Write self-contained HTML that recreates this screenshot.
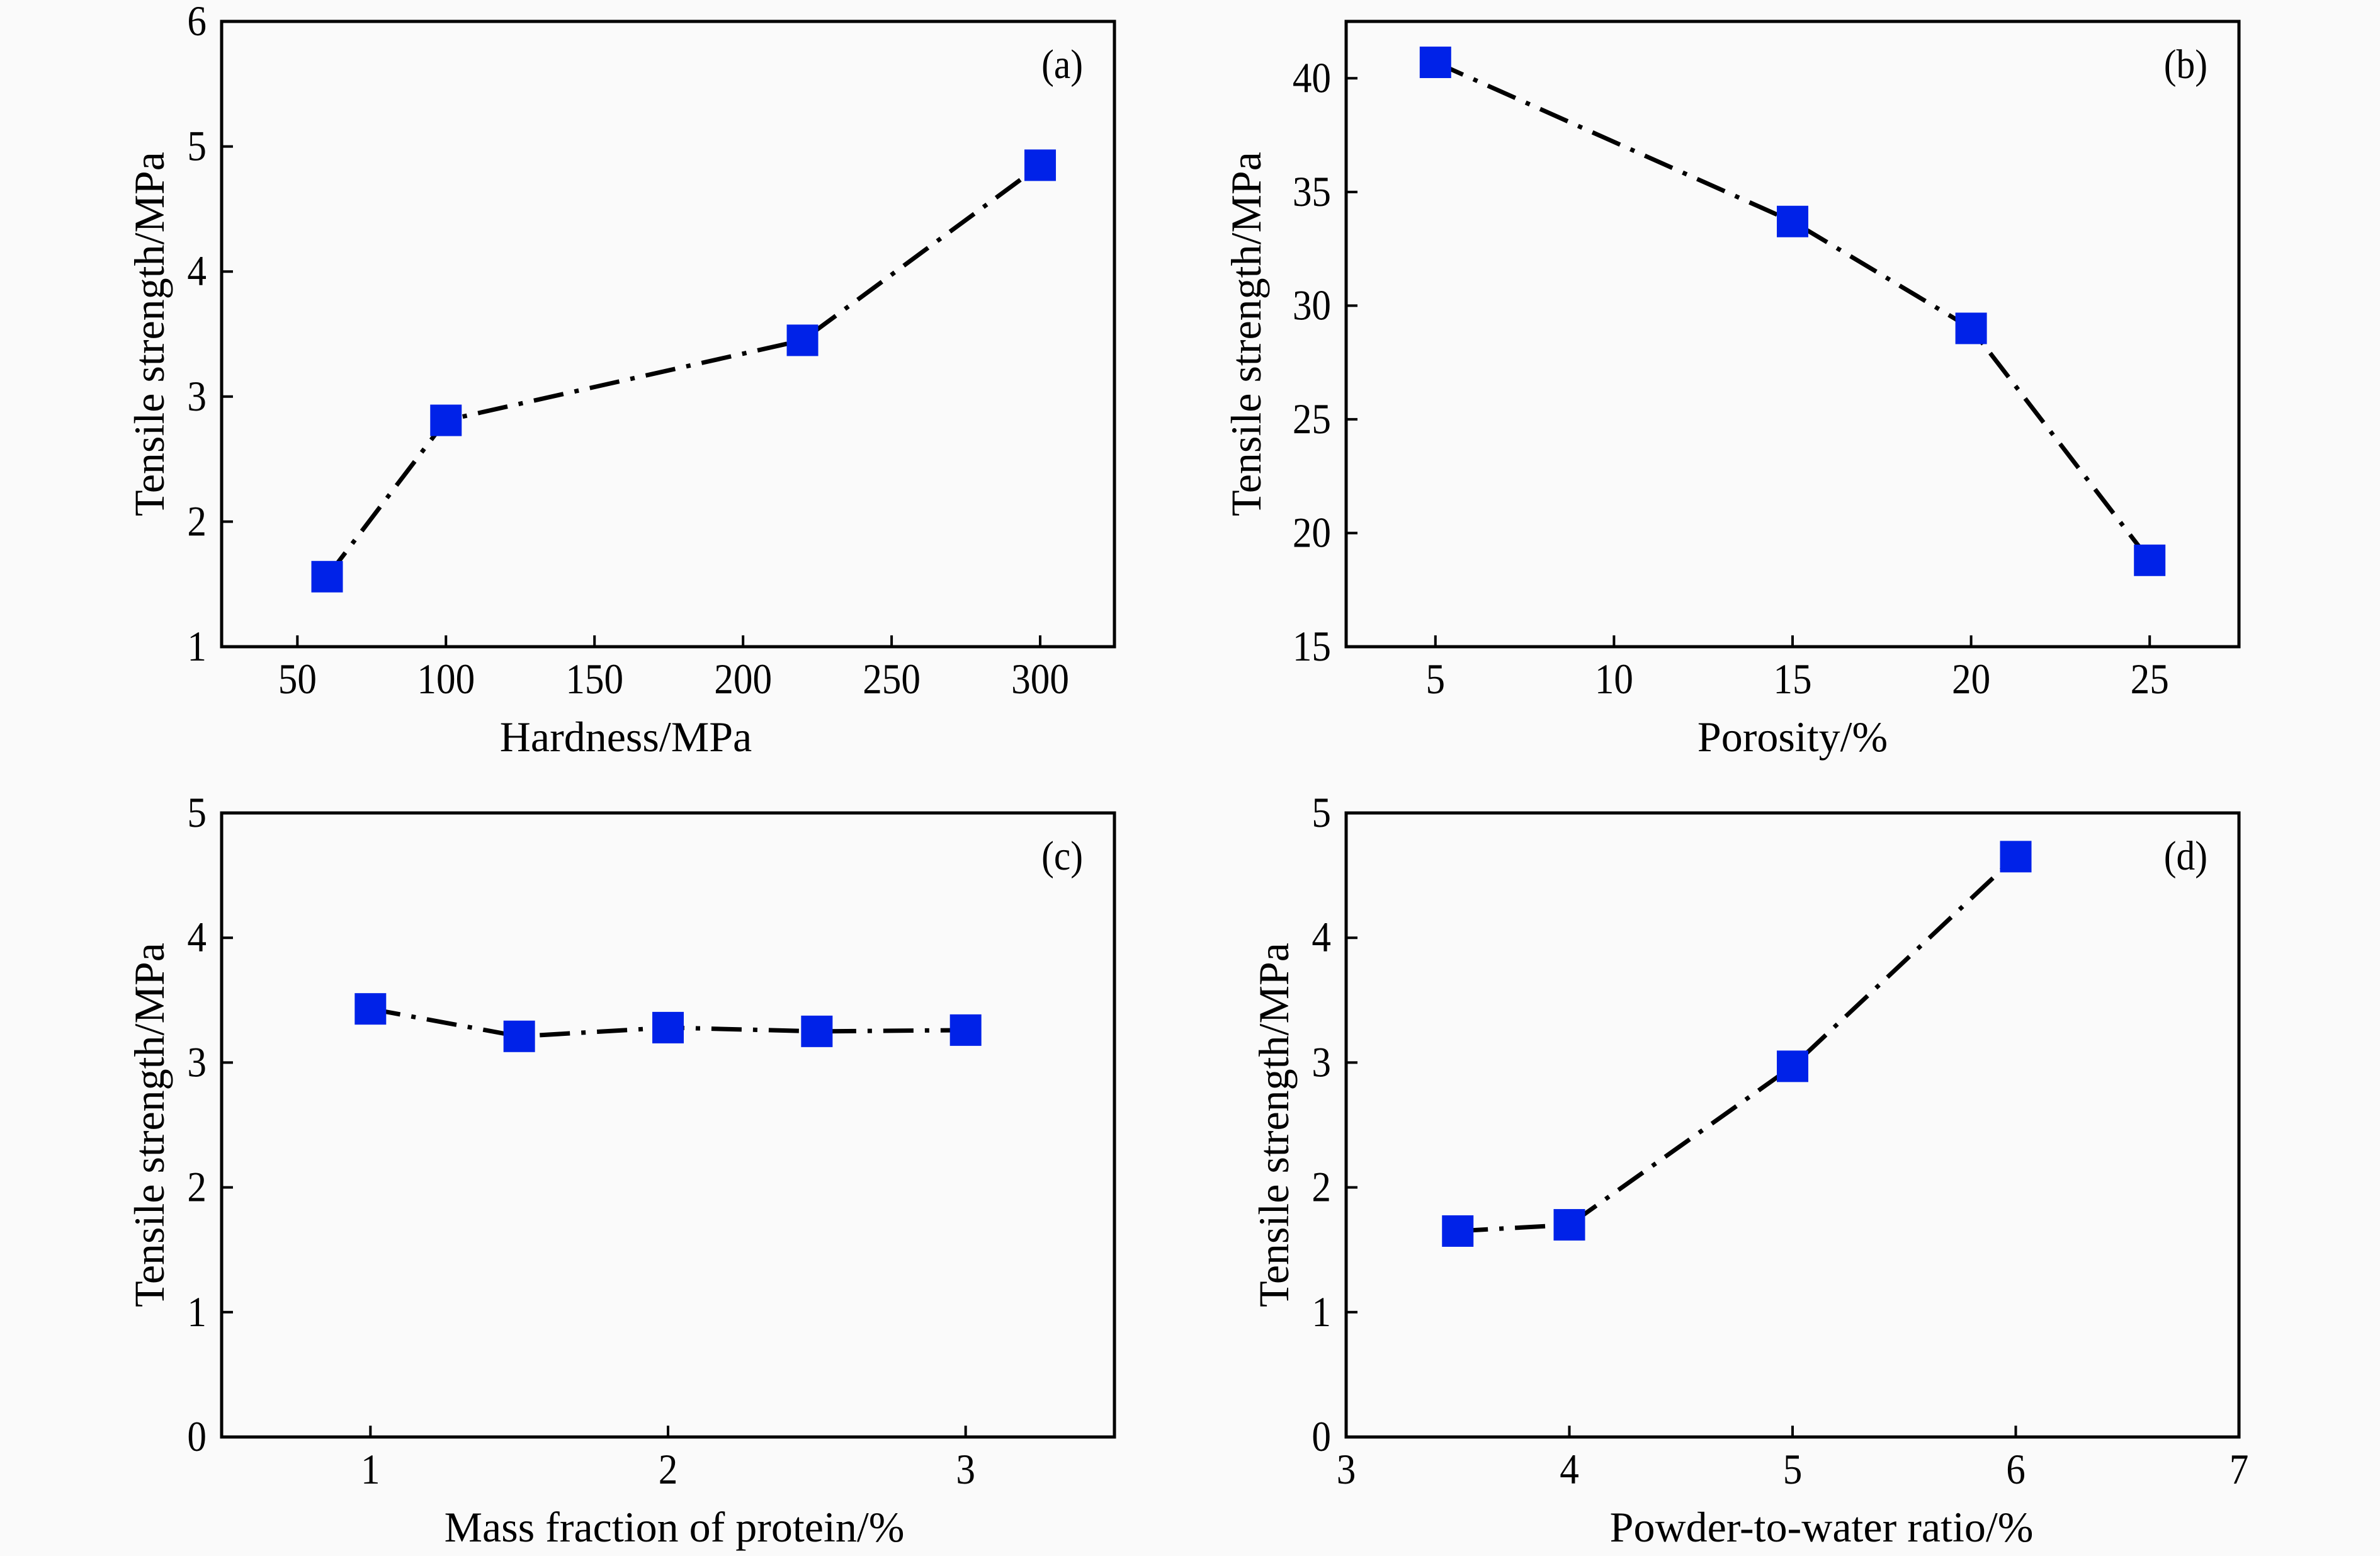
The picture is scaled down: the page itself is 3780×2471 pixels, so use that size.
<!DOCTYPE html>
<html><head><meta charset="utf-8"><style>
html,body{margin:0;padding:0;background:#fafafa;}
svg{display:block;}
text{font-family:"Liberation Serif",serif;fill:#000;}
</style></head><body>
<svg id="fig" width="3780" height="2471" viewBox="0 0 3780 2471" xmlns="http://www.w3.org/2000/svg"></svg>
<script>
// Panel (a)
const aX = [60, 100, 220, 300];
const aY = [1.56, 2.81, 3.45, 4.85];
const aXTicks = [50, 100, 150, 200, 250, 300];
const aYTicks = [1, 2, 3, 4, 5, 6];
// Panel (b)
const bX = [5, 15, 20, 25];
const bY = [40.7, 33.7, 29.0, 18.8];
const bXTicks = [5, 10, 15, 20, 25];
const bYTicks = [15, 20, 25, 30, 35, 40];
// Panel (c)
const cX = [1, 1.5, 2, 2.5, 3];
const cY = [3.43, 3.21, 3.28, 3.25, 3.26];
const cXTicks = [1, 2, 3];
const cYTicks = [0, 1, 2, 3, 4, 5];
// Panel (d)
const dX = [3.5, 4, 5, 6];
const dY = [1.65, 1.70, 2.97, 4.65];
const dXTicks = [3, 4, 5, 6, 7];
const dYTicks = [0, 1, 2, 3, 4, 5];

const NS = "http://www.w3.org/2000/svg";
const svg = document.getElementById('fig');
function mk(tag, attrs, parent) {
  const e = document.createElementNS(NS, tag);
  for (const k in attrs) e.setAttribute(k, attrs[k]);
  (parent || svg).appendChild(e);
  return e;
}
function txt(str, x, y, anchor, parent, rot, size, sc) {
  const t = mk('text', {'font-size': size, 'text-anchor': anchor,
    transform: rot ? `translate(${x},${y}) rotate(-90) scale(${sc},1)` : `translate(${x},${y}) scale(${sc},1)`}, parent);
  t.textContent = str;
  return t;
}

function panel(id, box, xd, yd, xs, ys, xt, yt, xlabel, tag, xlOff, ylOff) {
  const g = mk('g', {});
  
  
  const [L, T, R, B] = box;
  const sx = v => L + (v - xd[0]) / (xd[1] - xd[0]) * (R - L);
  const sy = v => B - (v - yd[0]) / (yd[1] - yd[0]) * (B - T);
  const frame = mk('rect', {x: L, y: T, width: R - L, height: B - T, fill: 'none', stroke: '#000', 'stroke-width': 5}, g);
  
  
  xt.forEach(v => {
    const x = sx(v);
    const tk = mk('line', {x1: x, x2: x, y1: B, y2: B - 18, stroke: '#000', 'stroke-width': 4}, g);
    
    
    const lb = txt(String(v), x, B + 74, 'middle', g, false, 68, 0.9);
    
    
  });
  yt.forEach(v => {
    const y = sy(v);
    const tk = mk('line', {x1: L, x2: L + 18, y1: y, y2: y, stroke: '#000', 'stroke-width': 4}, g);
    
    
    const lb = txt(String(v), L - 24, y + 22, 'end', g, false, 68, 0.9);
    
    
  });
  const xl = txt(xlabel, (L + R) / 2 + xlOff, B + 166, 'middle', g, false, 68, 1.0);
  
  
  const yl = txt('Tensile strength/MPa', L - ylOff, (T + B) / 2, 'middle', g, true, 68, 1.0);
  
  
  const pl = txt(tag, R - 50, T + 90, 'end', g, false, 66, 0.9);
  
  
  const pts = xs.map((v, i) => sx(v) + ',' + sy(ys[i])).join(' ');
  const line = mk('polyline', {points: pts, fill: 'none', stroke: '#000', 'stroke-width': 7, 'stroke-dasharray': '48 18 7 18'}, g);
  
  
  xs.forEach((v, i) => {
    const m = mk('rect', {x: sx(v) - 25, y: sy(ys[i]) - 25, width: 50, height: 50, fill: '#0022e8'}, g);
    
    
  });
}

panel('a', [352, 34, 1770, 1027], [24.5, 325], [1, 6], aX, aY, aXTicks, aYTicks, 'Hardness/MPa', '(a)', -67, 92);
panel('b', [2138, 34, 3556, 1027], [2.5, 27.5], [15, 42.5], bX, bY, bXTicks, bYTicks, 'Porosity/%', '(b)', 0, 136);
panel('c', [352, 1291, 1770, 2282], [0.5, 3.5], [0, 5], cX, cY, cXTicks, cYTicks, 'Mass fraction of protein/%', '(c)', 10, 92);
panel('d', [2138, 1291, 3556, 2282], [3, 7], [0, 5], dX, dY, dXTicks, dYTicks, 'Powder-to-water ratio/%', '(d)', 46, 92);
</script>
</body></html>
